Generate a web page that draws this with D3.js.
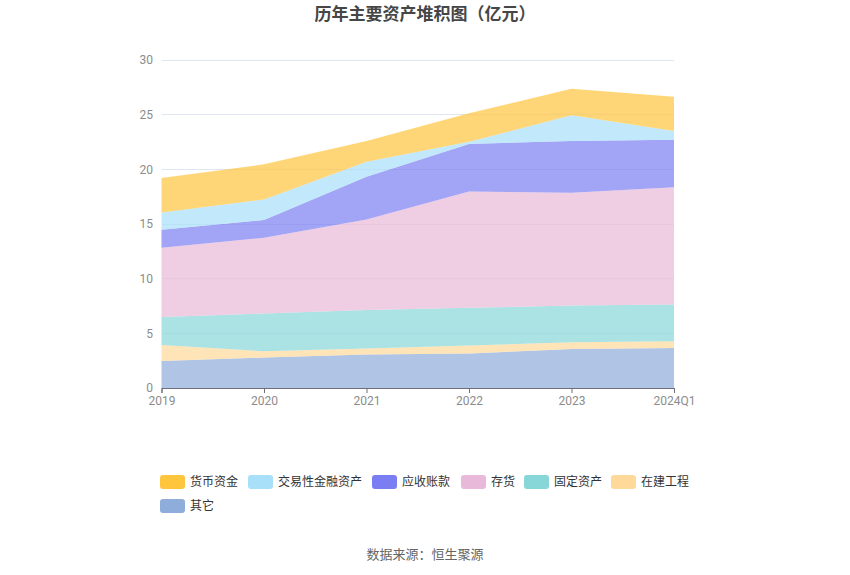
<!DOCTYPE html>
<html><head><meta charset="utf-8">
<script src="https://cdn.jsdelivr.net/npm/d3@7"></script>
<style>body{margin:0;background:#fff;font-family:"Noto Sans CJK SC","Noto Sans",sans-serif;}</style>
</head><body><svg id="c" width="850" height="575"></svg>
<script>
const categories = ["2019","2020","2021","2022","2023","2024Q1"];
const seriesNames = ["货币资金","交易性金融资产","应收账款","存货","固定资产","在建工程","其它"];
const colors = ["#ffc53d","#a8dff9","#7b7ef2","#e8b9d9","#87d7d8","#ffd99a","#8eaddb"];
const 货币资金 = [3.14,3.21,1.89,2.60,2.44,3.14];
const 交易性金融资产 = [1.59,1.89,1.38,0.21,2.35,0.80];
const 应收账款 = [1.65,1.62,3.90,4.34,4.73,4.36];
const 存货 = [6.32,6.93,8.28,10.65,10.32,10.71];
const 固定资产 = [2.56,3.45,3.53,3.45,3.36,3.36];
const 在建工程 = [1.47,0.58,0.55,0.73,0.61,0.62];
const 其它 = [2.47,2.78,3.06,3.15,3.57,3.66];
const yTicks = [0,5,10,15,20,25,30];

const valuesByName = {"货币资金":货币资金,"交易性金融资产":交易性金融资产,"应收账款":应收账款,"存货":存货,"固定资产":固定资产,"在建工程":在建工程,"其它":其它};
const rows = categories.map((c,i)=>{const r={cat:c}; seriesNames.forEach(n=>r[n]=valuesByName[n][i]); return r;});
const stackOrder = seriesNames.slice().reverse(); // bottom first
const stacked = d3.stack().keys(stackOrder)(rows);

const svg = d3.select("#c");
const x = d3.scalePoint().domain(categories).range([161.5,674]);
const y = d3.scaleLinear().domain([0,30]).range([388,60]);

// grid
svg.append("g").selectAll("line").data(yTicks.filter(t=>t>0)).join("line")
  .attr("x1",161.5).attr("x2",674).attr("y1",d=>y(d)).attr("y2",d=>y(d))
  .attr("stroke","#e0e6f1").attr("stroke-width",1).attr("shape-rendering","crispEdges");

// y labels
svg.append("g").selectAll("text").data(yTicks).join("text")
  .attr("x",153).attr("y",d=>y(d)).attr("dy","0.35em").attr("text-anchor","end")
  .attr("font-size",12).attr("fill","#8c8c8c").attr("font-family","Roboto, 'Noto Sans', sans-serif").text(d=>d);

// areas
const area = d3.area().x(d=>x(d.data.cat)).y0(d=>y(d[0])).y1(d=>y(d[1]));
svg.append("g").selectAll("path").data(stacked).join("path")
  .attr("d",area)
  .attr("fill",d=>colors[seriesNames.indexOf(d.key)])
  .attr("fill-opacity",0.7);

// x axis
const xg = svg.append("g").attr("transform","translate(0,388)")
  .call(d3.axisBottom(x).tickSize(5).tickPadding(3));
xg.select(".domain").attr("stroke","#6e7079");
xg.selectAll(".tick line").attr("stroke","#6e7079");
xg.selectAll(".tick text").attr("fill","#8c8c8c").attr("font-size",12).attr("font-family","Roboto, 'Noto Sans', sans-serif");

// title
svg.append("text").attr("x",425).attr("y",20).attr("text-anchor","middle")
  .attr("font-size",17).attr("font-weight","bold").attr("fill","#464646").text("历年主要资产堆积图（亿元）");

// legend
const legendPos = [[160,482],[248,482],[372,482],[461,482],[524,482],[611,482],[160,506]];
const lg = svg.append("g").selectAll("g").data(seriesNames).join("g")
  .attr("transform",(d,i)=>`translate(${legendPos[i][0]},${legendPos[i][1]})`);
lg.append("rect").attr("x",0).attr("y",-7).attr("width",25).attr("height",14).attr("rx",3)
  .attr("fill",(d,i)=>colors[i]);
lg.append("text").attr("x",30).attr("y",0).attr("dy","0.35em").attr("font-size",12)
  .attr("fill","#333").text(d=>d);

// source
svg.append("text").attr("x",425).attr("y",559).attr("text-anchor","middle")
  .attr("font-size",13).attr("fill","#666").text("数据来源：恒生聚源");
</script></body></html>
